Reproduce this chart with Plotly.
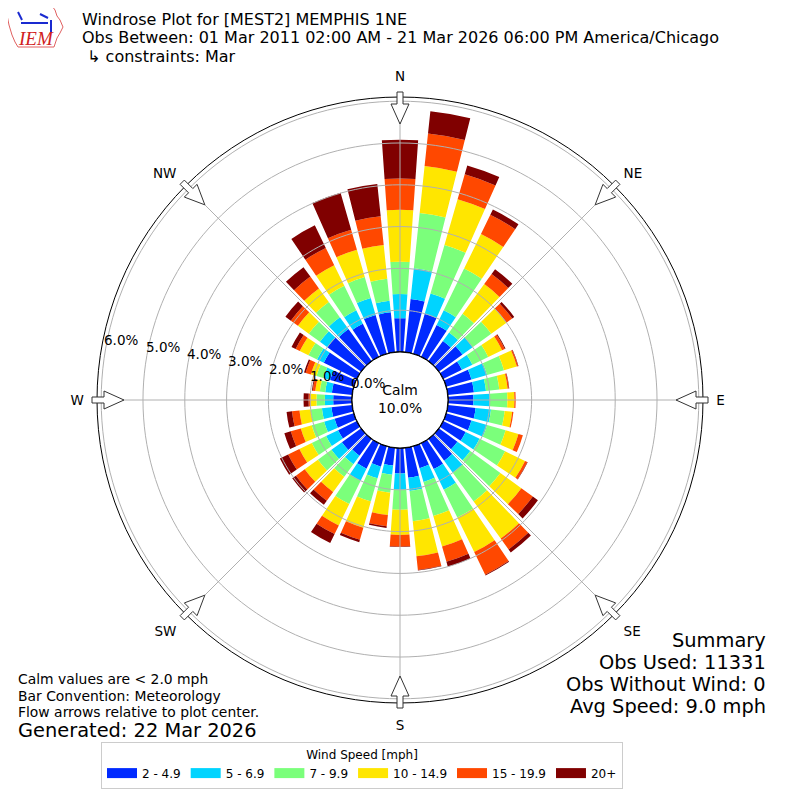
import math
import plotly.graph_objects as go

# wind directions (deg, 10 deg bins) and speed bins
directions = list(range(0, 360, 10))
speed_bins = ["2 - 4.9", "5 - 6.9", "7 - 9.9", "10 - 14.9", "15 - 19.9", "20+"]
bin_colors = ["#002aff", "#00d4ff", "#7bff7b", "#ffe600", "#ff4800", "#800000"]

# percent of observations per direction bin, one list per speed bin
spd_2_5 = [0.81, 1.28, 1.00, 0.85, 0.60, 0.70, 0.50, 0.63, 0.63, 0.61, 0.67, 0.63,
           0.60, 0.55, 0.65, 0.69, 0.55, 0.72, 0.61, 0.43, 0.51, 0.68, 0.50, 0.57,
           0.50, 0.48, 0.50, 0.45, 0.49, 0.59, 0.88, 1.00, 0.95, 0.88, 0.97, 0.96]
spd_5_7 = [0.58, 0.74, 0.50, 0.39, 0.25, 0.30, 0.28, 0.39, 0.29, 0.39, 0.37, 0.39,
           0.37, 0.38, 0.35, 0.55, 0.34, 0.32, 0.39, 0.22, 0.29, 0.32, 0.25, 0.31,
           0.32, 0.26, 0.23, 0.20, 0.16, 0.17, 0.18, 0.22, 0.35, 0.36, 0.42, 0.28]
spd_7_10 = [0.77, 1.33, 1.21, 1.11, 0.55, 0.55, 0.42, 0.42, 0.32, 0.42, 0.33, 0.46,
            0.68, 0.89, 0.85, 0.74, 0.85, 0.73, 0.48, 0.43, 0.58, 0.62, 0.37, 0.40,
            0.38, 0.31, 0.27, 0.20, 0.13, 0.17, 0.23, 0.33, 0.45, 0.65, 0.52, 0.53]
spd_10_15 = [1.24, 1.13, 1.14, 0.92, 0.88, 0.45, 0.37, 0.32, 0.20, 0.17, 0.18, 0.32,
             0.53, 0.62, 1.10, 0.92, 0.76, 0.84, 0.60, 0.54, 0.65, 0.57, 0.45, 0.39,
             0.33, 0.27, 0.27, 0.15, 0.11, 0.14, 0.23, 0.32, 0.40, 0.55, 0.68, 0.81]
spd_15_20 = [0.75, 0.78, 0.62, 0.51, 0.30, 0.17, 0.07, 0.03, 0.03, 0.03, 0.03, 0.11,
             0.06, 0.34, 0.32, 0.60, 0.38, 0.33, 0.28, 0.27, 0.30, 0.23, 0.26, 0.26,
             0.30, 0.25, 0.18, 0.04, 0.06, 0.13, 0.11, 0.21, 0.35, 0.46, 0.50, 0.69]
spd_20p = [0.93, 0.54, 0.22, 0.14, 0.14, 0.06, 0.02, 0.01, 0.01, 0.00, 0.00, 0.00,
           0.01, 0.15, 0.09, 0.02, 0.12, 0.01, 0.01, 0.04, 0.06, 0.24, 0.12, 0.11,
           0.22, 0.16, 0.13, 0.12, 0.02, 0.04, 0.11, 0.16, 0.28, 0.60, 0.92, 0.78]
series = [spd_2_5, spd_5_7, spd_7_10, spd_10_15, spd_15_20, spd_20p]

compass_vals = [0, 45, 90, 135, 180, 225, 270, 315]
compass_text = ["N", "NE", "E", "SE", "S", "SW", "W", "NW"]
radial_ticks = [0, 1, 2, 3, 4, 5, 6]
calm_pct = 10.0

title_lines = ["Windrose Plot for [MEST2] MEMPHIS 1NE",
               "Obs Between: 01 Mar 2011 02:00 AM - 21 Mar 2026 06:00 PM America/Chicago",
               " \u21b3 constraints: Mar"]
note_lines = ["Calm values are &lt; 2.0 mph", "Bar Convention: Meteorology",
              "Flow arrows relative to plot center."]
summary_lines = ["Summary", "Obs Used: 11331", "Obs Without Wind: 0", "Avg Speed: 9.0 mph"]

FONT = "DejaVu Sans"
W = H = 800
OFF = 8  # page margin of the html body
CX, CY, R_PIX = 400 - OFF, 400 - OFF, 303
HOLE_PIX = 48
RMAX = 6.1


def px(x):
    return (x - OFF) / W


def py(y):
    return 1 - (y - OFF) / H


fig = go.Figure()

for name, vals, col in zip(speed_bins, series, bin_colors):
    fig.add_trace(go.Barpolar(r=vals, theta=directions, width=8, name=name,
                              marker=dict(color=col, line=dict(width=0)),
                              showlegend=False, hoverinfo="skip"))

# grid on top of the bars, like the matplotlib original
ring_theta = list(range(0, 361, 2))
for rv in radial_ticks[1:]:
    fig.add_trace(go.Scatterpolar(r=[rv] * len(ring_theta), theta=ring_theta, mode="lines",
                                  line=dict(color="#b0b0b0", width=1),
                                  showlegend=False, hoverinfo="skip"))
for a in compass_vals:
    fig.add_trace(go.Scatterpolar(r=[0, RMAX], theta=[a, a], mode="lines",
                                  line=dict(color="#b0b0b0", width=1),
                                  showlegend=False, hoverinfo="skip"))
# calm circle outline
fig.add_trace(go.Scatterpolar(r=[0] * len(ring_theta), theta=ring_theta, mode="lines",
                              line=dict(color="black", width=1.5),
                              showlegend=False, hoverinfo="skip"))

# legend proxies (wide colour patches)
for name, col in zip(speed_bins, bin_colors):
    fig.add_trace(go.Scatterpolar(r=[None], theta=[None], mode="lines", name=name,
                                  line=dict(color=col, width=10)))

# hollow flow arrows at the compass points
shapes = []
arrow_pts = [(308, -3), (308, 3), (296, 3), (296, 9), (276, 0), (296, -9), (296, -3)]
for a in compass_vals:
    t = math.radians(a)
    ux, uy = math.sin(t), -math.cos(t)
    nx, ny = math.cos(t), math.sin(t)
    pts = []
    for d, w in arrow_pts:
        x = CX + d * ux + w * nx
        y = CY + d * uy + w * ny
        pts.append(f"{x / W:.5f},{1 - y / H:.5f}")
    shapes.append(dict(type="path", xref="paper", yref="paper",
                       path="M" + " L".join(pts) + " Z",
                       fillcolor="white", line=dict(color="#333333", width=1)))

# IEM logo (rough)
logo = [(6, 6), (52, 6), (55, 10), (57, 16), (60, 20), (63, 27), (60, 33), (57, 38),
        (55, 44), (54, 47), (18, 47), (15, 42), (12, 35), (9, 25), (7, 15)]
shapes.append(dict(type="path", xref="paper", yref="paper",
                   path="M" + " L".join(f"{px(x):.5f},{py(y):.5f}" for x, y in logo) + " Z",
                   line=dict(color="#e06060", width=1)))
for (x0, y0, x1, y1) in [(21, 23, 48, 23), (18, 12, 22, 20), (40, 14, 48, 18), (51, 20, 51, 32)]:
    shapes.append(dict(type="line", xref="paper", yref="paper", x0=px(x0), y0=py(y0),
                       x1=px(x1), y1=py(y1), line=dict(color="#1a2ad0", width=2)))

annotations = []
for i, line in enumerate(title_lines):
    annotations.append(dict(text=line, x=px(80), y=py(19 + 18.6 * i), xref="paper", yref="paper",
                            xanchor="left", yanchor="middle", showarrow=False,
                            font=dict(family=FONT, size=16, color="black")))
for i, line in enumerate(note_lines):
    annotations.append(dict(text=line, x=px(16), y=py(679 + 16.5 * i), xref="paper", yref="paper",
                            xanchor="left", yanchor="middle", showarrow=False,
                            font=dict(family=FONT, size=13.9, color="black")))
annotations.append(dict(text="Generated: 22 Mar 2026", x=px(16), y=py(730), xref="paper", yref="paper",
                        xanchor="left", yanchor="middle", showarrow=False,
                        font=dict(family=FONT, size=19.4, color="black")))
for i, line in enumerate(summary_lines):
    annotations.append(dict(text=line, x=px(768), y=py(640 + 22 * i), xref="paper", yref="paper",
                            xanchor="right", yanchor="middle", showarrow=False,
                            font=dict(family=FONT, size=19.4, color="black")))
annotations.append(dict(text=f"Calm<br>{calm_pct:.1f}%", x=px(400), y=py(399), xref="paper", yref="paper",
                        xanchor="center", yanchor="middle", showarrow=False,
                        font=dict(family=FONT, size=13.9, color="black")))
annotations.append(dict(text="<i>IEM</i>", x=px(36), y=py(39), xref="paper", yref="paper",
                        xanchor="center", yanchor="middle", showarrow=False,
                        font=dict(family="Liberation Serif", size=19, color="#d02020")))

# radial labels: matplotlib style, along a line ~10 deg above west
lab_dir = math.radians(10)
dx, dy = -math.cos(lab_dir), -math.sin(lab_dir)
nx, ny = math.sin(lab_dir), -math.cos(lab_dir)
for v in radial_ticks:
    ring = HOLE_PIX + v * (R_PIX - HOLE_PIX) / RMAX
    lx = CX + (ring - 14) * dx + 11 * nx
    ly = CY + (ring - 14) * dy + 11 * ny
    annotations.append(dict(text=f"{v:.1f}%", x=lx / W, y=1 - ly / H, xref="paper", yref="paper",
                            xanchor="center", yanchor="middle", showarrow=False,
                            font=dict(family=FONT, size=13.5, color="black")))

fig.update_layout(
    width=W, height=H,
    margin=dict(l=0, r=0, t=0, b=0),
    paper_bgcolor="white",
    font=dict(family=FONT, size=13, color="black"),
    polar=dict(
        domain=dict(x=[(CX - R_PIX) / W, (CX + R_PIX) / W], y=[1 - (CY + R_PIX) / H, 1 - (CY - R_PIX) / H]),
        hole=HOLE_PIX / R_PIX,
        bgcolor="white",
        barmode="stack",
        radialaxis=dict(range=[0, RMAX], showticklabels=False, showline=False,
                        showgrid=False, ticks=""),
        angularaxis=dict(rotation=90, direction="clockwise", tickvals=compass_vals,
                         ticktext=compass_text, showgrid=False, showline=True,
                         linecolor="black", linewidth=1, ticks="outside", ticklen=10,
                         tickcolor="rgba(0,0,0,0)",
                         tickfont=dict(family=FONT, size=13.5, color="black")),
    ),
    legend=dict(orientation="h", x=px(362), y=py(742), xanchor="center", yanchor="top",
                bordercolor="#cccccc", borderwidth=1, bgcolor="white",
                font=dict(family=FONT, size=12),
                title=dict(text="Wind Speed [mph]", side="top center", font=dict(family=FONT, size=12))),
    shapes=shapes,
    annotations=annotations,
)

fig.write_html("out.html")
